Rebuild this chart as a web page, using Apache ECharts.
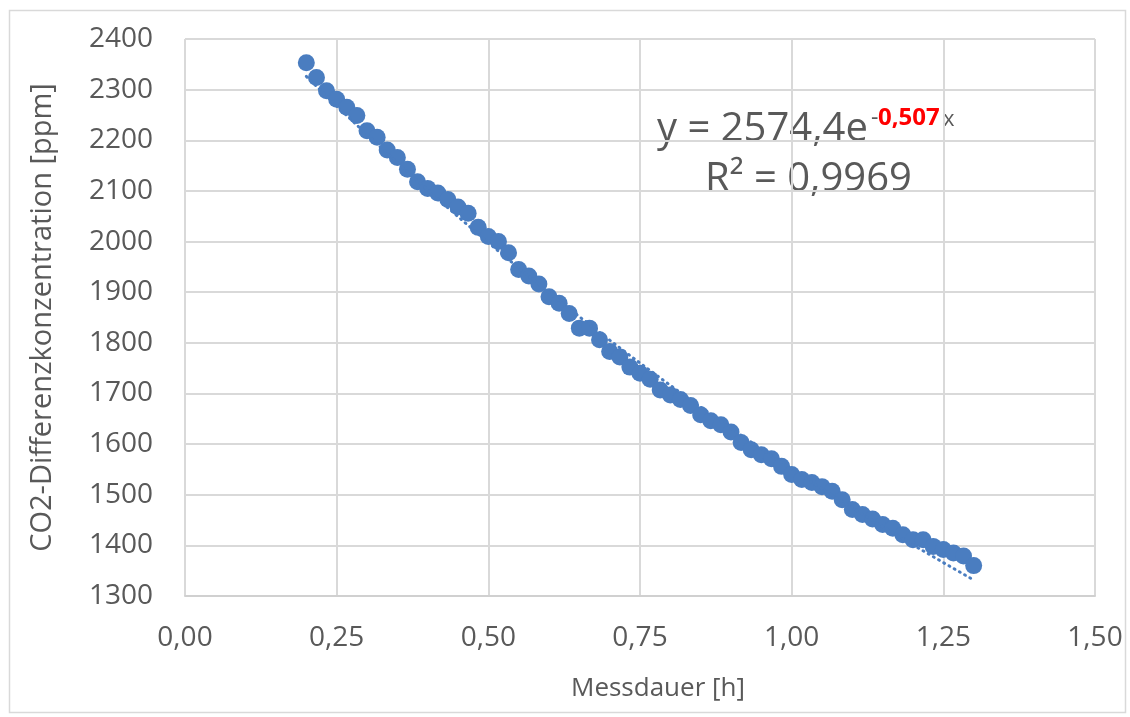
<!DOCTYPE html>
<html>
<head>
<meta charset="utf-8">
<script src="https://cdn.jsdelivr.net/npm/echarts@6/dist/echarts.min.js"></script>
<style>
html,body{margin:0;padding:0;background:#fff;}
#chart{width:1130px;height:717px;}
</style>
</head>
<body>
<div id="chart"></div>
<script>
// Measurement time [h]
var hours = [0.2,0.2167,0.2333,0.25,0.2667,0.2833,0.3,0.3167,0.3333,0.35,0.3667,0.3833,0.4,0.4167,0.4333,0.45,0.4667,0.4833,0.5,0.5167,0.5333,0.55,0.5667,0.5833,0.6,0.6167,0.6333,0.65,0.6667,0.6833,0.7,0.7167,0.7333,0.75,0.7667,0.7833,0.8,0.8167,0.8333,0.85,0.8667,0.8833,0.9,0.9167,0.9333,0.95,0.9667,0.9833,1.0,1.0167,1.0333,1.05,1.0667,1.0833,1.1,1.1167,1.1333,1.15,1.1667,1.1833,1.2,1.2167,1.2333,1.25,1.2667,1.2833,1.3];
// CO2 difference concentration [ppm]
var ppm = [2353,2324,2298,2281,2265,2249,2219,2206,2181,2166,2143,2118,2105,2096,2083,2068,2056,2028,2010,2000,1978,1945,1932,1916,1891,1878,1858,1829,1829,1806,1783,1772,1752,1740,1728,1707,1697,1688,1676,1658,1646,1638,1624,1603,1589,1579,1571,1556,1540,1530,1524,1516,1507,1490,1471,1461,1452,1441,1434,1421,1411,1411,1398,1392,1385,1379,1360];
// Exponential trendline y = A * e^(B x)
var trendA = 2574.4;
var trendB = -0.507;
var rSquared = 0.9969;
var xTicks = [0,0.25,0.5,0.75,1.0,1.25,1.5];
var yTicks = [1300,1400,1500,1600,1700,1800,1900,2000,2100,2200,2300,2400];

function deNum(v, d){ return v.toFixed(d).replace('.', ','); }

var points = hours.map(function(h,i){ return [h, ppm[i]]; });
var trend = hours.map(function(h){ return [h, trendA*Math.exp(trendB*h)]; });

var FONT = "'Open Sans', 'Noto Sans', sans-serif";
var GREY = '#595959';
var BLUE = '#4a7dc0';

var chart = echarts.init(document.getElementById('chart'), null, {renderer:'canvas'});
chart.setOption({
  backgroundColor:'#ffffff',
  animation:false,
  grid:{left:185, right:35, top:39, bottom:121, containLabel:false},
  xAxis:{
    type:'value', min:xTicks[0], max:xTicks[xTicks.length-1], interval:0.25,
    name:'Messdauer [h]', nameLocation:'middle', nameGap:80,
    nameTextStyle:{fontFamily:FONT, fontSize:26, color:GREY, padding:[0,0,0,36]},
    axisLine:{show:true, onZero:false, lineStyle:{color:'#d0d0d0', width:2}},
    axisTick:{show:false},
    axisLabel:{fontFamily:FONT, fontSize:28, color:GREY, margin:28,
      formatter:function(v){ return deNum(v,2); }},
    splitLine:{show:true, lineStyle:{color:'#d9d9d9', width:2}}
  },
  yAxis:{
    type:'value', min:yTicks[0], max:yTicks[yTicks.length-1], interval:100,
    name:'CO2-Differenzkonzentration [ppm]', nameLocation:'middle', nameGap:128, nameRotate:90,
    nameTextStyle:{fontFamily:FONT, fontSize:29, color:GREY},
    axisLine:{show:false},
    axisTick:{show:false},
    axisLabel:{fontFamily:FONT, fontSize:28, color:GREY, margin:32,
      formatter:function(v){ return String(v); }},
    splitLine:{show:true, lineStyle:{color:'#d9d9d9', width:2}}
  },
  series:[
    {
      type:'scatter', data:points, symbol:'circle', symbolSize:17,
      itemStyle:{color:BLUE, opacity:1}, z:2
    },
    {
      type:'line', data:trend, showSymbol:false, symbol:'none', smooth:false,
      lineStyle:{color:BLUE, width:3, type:[1,5], cap:'round'}, z:3
    }
  ],
  graphic:[
    {type:'rect', left:7, top:8, shape:{x:0,y:0,width:1116,height:702},
     style:{fill:'none', stroke:'#d9d9d9', lineWidth:1.5}, silent:true},
    {type:'text', left:657, top:110, style:{text:'y = ' + deNum(trendA,1) + 'e', fontFamily:FONT, fontSize:40, fill:GREY}},
    {type:'text', left:871, top:107, style:{text:'-', fontFamily:FONT, fontSize:23, fill:GREY}},
    {type:'text', left:878, top:106, style:{text:deNum(-trendB,3), fontFamily:FONT, fontSize:24, fontWeight:'bold', fill:'#ff0000'}},
    {type:'text', left:943, top:109, style:{text:'x', fontFamily:FONT, fontSize:22, fill:GREY}},
    {type:'text', left:705, top:160, style:{text:'R² = ' + deNum(rSquared,4), fontFamily:FONT, fontSize:40, fill:GREY}}
  ]
});
</script>
</body>
</html>
